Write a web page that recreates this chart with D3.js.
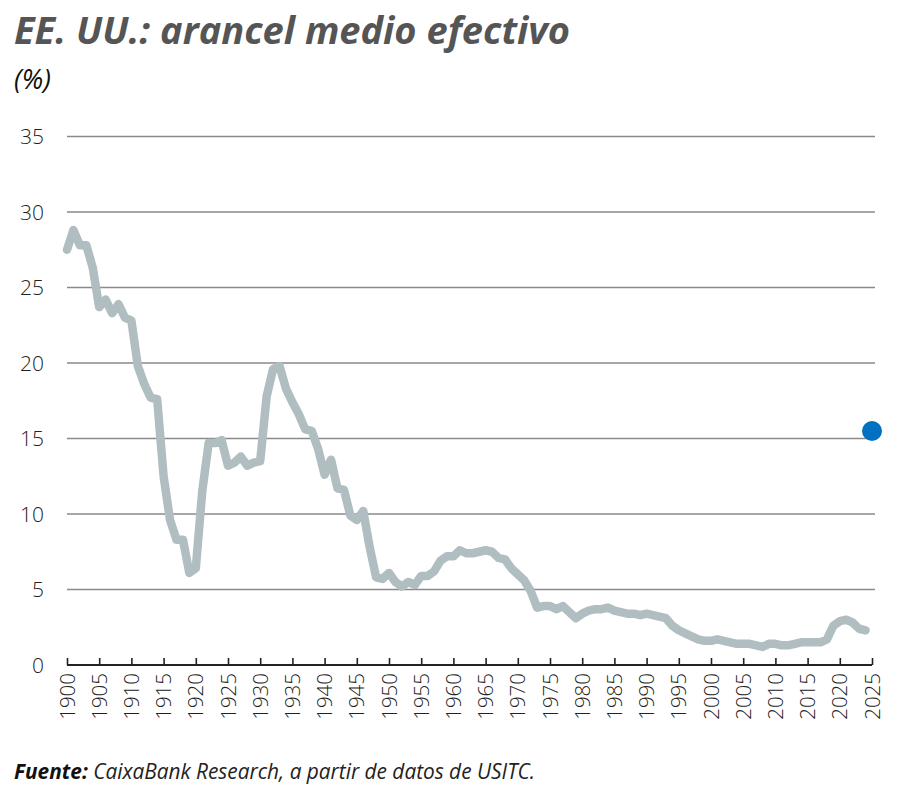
<!DOCTYPE html>
<html>
<head>
<meta charset="utf-8">
<script src="https://cdn.jsdelivr.net/npm/d3@7"></script>
<style>
  body { margin: 0; background: #fff; }
  svg { display: block; }
</style>
</head>
<body>
<svg id="svg" width="900" height="806"></svg>
<script>
// effective average tariff, %, 1900-2024
const years = d3.range(1900, 2025)
const tariff = [
  27.5, 28.8, 27.8, 27.8, 26.3, 23.7, 24.2, 23.3, 23.9, 23.0,
  22.8, 19.8, 18.6, 17.7, 17.6, 12.5, 9.6, 8.3, 8.3, 6.1,
  6.4, 11.5, 14.7, 14.7, 14.9, 13.2, 13.4, 13.8, 13.2, 13.4,
  13.5, 17.8, 19.6, 19.8, 18.3, 17.4, 16.6, 15.6, 15.5, 14.3,
  12.6, 13.6, 11.7, 11.6, 9.9, 9.6, 10.2, 7.8, 5.8, 5.7,
  6.1, 5.5, 5.2, 5.5, 5.3, 5.9, 5.9, 6.2, 6.9, 7.2,
  7.2, 7.6, 7.4, 7.4, 7.5, 7.6, 7.5, 7.1, 7.0, 6.4,
  6.0, 5.6, 4.9, 3.8, 3.9, 3.9, 3.7, 3.9, 3.5, 3.1,
  3.4, 3.6, 3.7, 3.7, 3.8, 3.6, 3.5, 3.4, 3.4, 3.3,
  3.4, 3.3, 3.2, 3.1, 2.6, 2.3, 2.1, 1.9, 1.7, 1.6,
  1.6, 1.7, 1.6, 1.5, 1.4, 1.4, 1.4, 1.3, 1.2, 1.4,
  1.4, 1.3, 1.3, 1.4, 1.5, 1.5, 1.5, 1.5, 1.7, 2.6,
  2.9, 3.0, 2.8, 2.4, 2.3
]
const estimate = { year: 2025, value: 15.5 }

const yTicks = [0, 5, 10, 15, 20, 25, 30, 35]
const xTicks = d3.range(1900, 2026, 5)

const data = years.map((y, i) => ({ year: y, value: tariff[i] }))

const svg = d3.select('#svg')

const xScale = d3.scaleLinear()
  .domain([1900, 2025])
  .range([67, 872])

const yScale = d3.scaleLinear()
  .domain([0, 35])
  .range([665, 136.5])

// title
svg.append('text')
  .attr('x', 14)
  .attr('y', 44)
  .text('EE. UU.: arancel medio efectivo')
  .style('font-family', '"Open Sans", sans-serif')
  .style('font-weight', 'bold')
  .style('font-style', 'italic')
  .style('font-size', '38px')
  .attr('textLength', 556)
  .attr('lengthAdjust', 'spacingAndGlyphs')
  .attr('fill', '#555')

svg.append('text')
  .attr('x', 14)
  .attr('y', 89)
  .text('(%)')
  .style('font-family', '"Open Sans", sans-serif')
  .style('font-style', 'italic')
  .style('font-size', '27px')
  .attr('fill', '#111')

// gridlines
svg.append('g')
  .selectAll('line')
  .data(yTicks.filter(d => d > 0))
  .enter()
  .append('line')
  .attr('x1', 67)
  .attr('x2', 875)
  .attr('y1', d => yScale(d))
  .attr('y2', d => yScale(d))
  .attr('stroke', '#8a8a8a')
  .attr('stroke-width', 1.4)

// y labels
svg.append('g')
  .selectAll('text')
  .data(yTicks)
  .enter()
  .append('text')
  .text(d => d)
  .attr('x', 44)
  .attr('y', d => yScale(d) + 7.5)
  .attr('text-anchor', 'end')
  .style('font-family', '"Open Sans", sans-serif')
  .style('font-weight', 300)
  .style('font-size', '21px')
  .attr('fill', '#222')

// x axis
const xAxis = d3.axisTop(xScale)
  .tickValues(xTicks)
  .tickSize(7)
  .tickFormat('')

const gx = svg.append('g')
  .attr('transform', `translate(0,${yScale(0)})`)
  .call(xAxis)
gx.select('.domain').attr('stroke', '#222').attr('stroke-width', 2).attr('d', `M${xScale(1900)},0H${xScale(2025)}`)
gx.selectAll('.tick line').attr('stroke', '#222').attr('stroke-width', 1.6)

svg.append('g')
  .selectAll('text')
  .data(xTicks)
  .enter()
  .append('text')
  .text(d => d)
  .attr('transform', d => `translate(${xScale(d) + 7.5},673) rotate(-90)`)
  .attr('text-anchor', 'end')
  .style('font-family', '"Open Sans", sans-serif')
  .style('font-weight', 300)
  .style('font-size', '20.5px')
  .attr('fill', '#222')

// line
svg.append('path')
  .datum(data)
  .attr('d', d3.line().x(d => xScale(d.year)).y(d => yScale(d.value)))
  .attr('fill', 'none')
  .attr('stroke', '#b0bec1')
  .attr('stroke-width', 8.5)
  .attr('stroke-linejoin', 'round')
  .attr('stroke-linecap', 'round')

svg.append('circle')
  .attr('cx', xScale(estimate.year))
  .attr('cy', yScale(estimate.value))
  .attr('r', 10)
  .attr('fill', '#0070c0')

// source
const src = svg.append('text')
  .attr('x', 14)
  .attr('y', 779)
  .style('font-family', '"Open Sans", sans-serif')
  .style('font-style', 'italic')
  .style('font-size', '21px')
  .attr('textLength', 521)
  .attr('lengthAdjust', 'spacingAndGlyphs')
  .attr('fill', '#222')
src.append('tspan').text('Fuente: ').style('font-weight', 'bold').attr('fill', '#111')
src.append('tspan').text('CaixaBank Research, a partir de datos de USITC.')
</script>
</body>
</html>
